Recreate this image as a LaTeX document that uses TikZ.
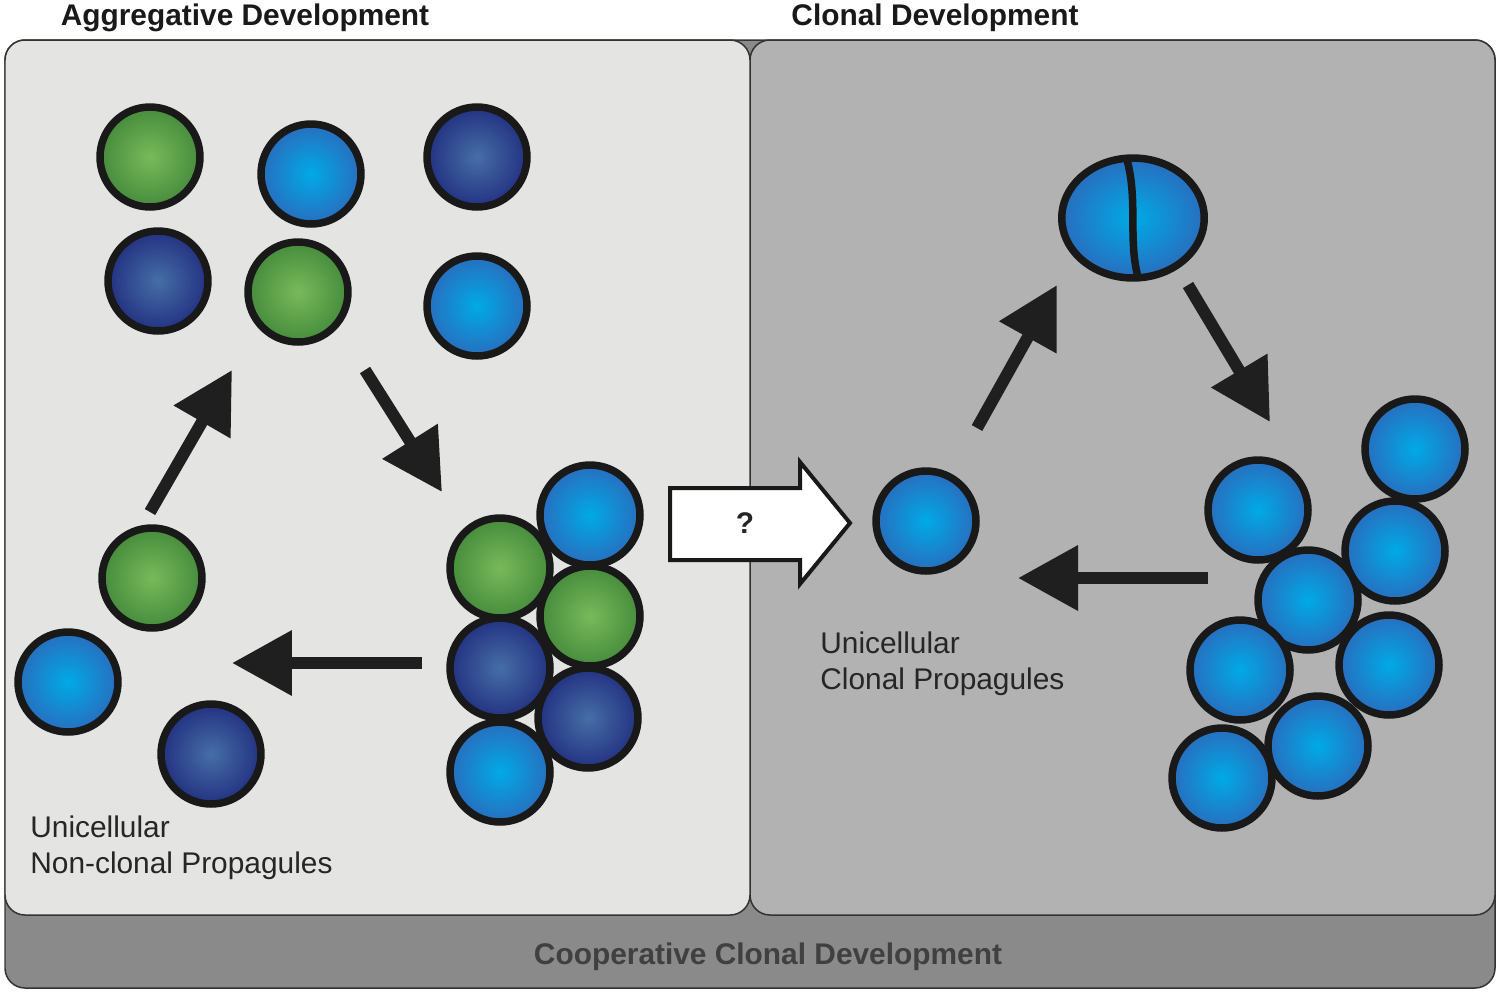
\documentclass[tikz,border=0pt]{standalone}
\usepackage{fontspec}
\setmainfont{Liberation Sans}
\usetikzlibrary{arrows.meta,shapes.geometric}
\definecolor{lpanel}{HTML}{E4E4E3}
\definecolor{rpanel}{HTML}{B2B2B2}
\definecolor{band}{HTML}{8A8A8A}
\begin{document}
\begin{tikzpicture}[x=0.02cm,y=-0.02cm,
 cell/.style={circle,draw=black!90,line width=0.15cm,minimum size=2.0cm,inner sep=0pt},
 G/.style={cell,inner color={rgb,255:red,120;green,185;blue,90},outer color={rgb,255:red,70;green,140;blue,60}},
 L/.style={cell,inner color={rgb,255:red,0;green,170;blue,230},outer color={rgb,255:red,40;green,110;blue,190}},
 D/.style={cell,inner color={rgb,255:red,70;green,110;blue,165},outer color={rgb,255:red,35;green,50;blue,130}},
 arr/.style={line width=0.24cm,draw=black!88,-{Triangle[length=1.2cm,width=1.25cm]}},
 lbl/.style={font=\fontsize{17}{21}\selectfont,align=left,anchor=north west,inner sep=0pt,text=black!85},
 ttl/.style={font=\bfseries\fontsize{17}{21}\selectfont,inner sep=0pt,text=black!90}]
\useasboundingbox (0,0) rectangle (1500,991);
\filldraw[fill=band,draw=black!80,line width=0.03cm,rounded corners=0.4cm] (5,40) rectangle (1495,988);
\filldraw[fill=rpanel,draw=black!80,line width=0.03cm,rounded corners=0.4cm] (750,40) rectangle (1495,915);
\filldraw[fill=lpanel,draw=black!80,line width=0.03cm,rounded corners=0.4cm] (5,40) rectangle (750,915);
\node[ttl] (t1) at (245,18) {Aggregative Development};
\node[ttl] (t2) at (935,18) {Clonal Development};
\node[ttl,text=black!75] (t3) at (768,957) {Cooperative Clonal Development};
% left cells
\node[G] (a1) at (150,157) {};
\node[L] (a2) at (311,174) {};
\node[D] (a3) at (477,157) {};
\node[D] (a4) at (158,281) {};
\node[G] (a5) at (298,292) {};
\node[L] (a6) at (477,306) {};
\node[G] (b1) at (152,578) {};
\node[L] (b2) at (68,682) {};
\node[D] (b3) at (211,754) {};
\node[L] (c1) at (590,515) {};
\node[G] (c2) at (500,568) {};
\node[G] (c3) at (590,616) {};
\node[D] (c4) at (500,668) {};
\node[D] (c5) at (588,718) {};
\node[L] (c6) at (500,772) {};
% right cells
\node[L] (r0) at (926,521) {};
\node[L] (d1) at (1415,449) {};
\node[L] (d2) at (1258,510) {};
\node[L] (d3) at (1395,551) {};
\node[L] (d4) at (1308,600) {};
\node[L] (d5) at (1240,670) {};
\node[L] (d6) at (1389,665) {};
\node[L] (d7) at (1318,746) {};
\node[L] (d8) at (1222,778) {};
% dividing cell
\node[ellipse,minimum width=2.85cm,minimum height=2.4cm,inner sep=0pt,
 inner color={rgb,255:red,0;green,170;blue,230},outer color={rgb,255:red,40;green,110;blue,190},
 draw=black!90,line width=0.15cm] (dv) at (1133,218) {};
\draw[line width=0.15cm,draw=black!90] (1127,160) .. controls (1138,200) and (1128,240) .. (1138,277);
% arrows
\coordinate (p1) at (150,512); \coordinate (p2) at (232,370);
\coordinate (p3) at (365,370); \coordinate (p4) at (442,492);
\coordinate (p5) at (422,663); \coordinate (p6) at (232,663);
\coordinate (q1) at (977,428); \coordinate (q2) at (1057,285);
\coordinate (q3) at (1188,285); \coordinate (q4) at (1270,422);
\coordinate (q5) at (1208,578); \coordinate (q6) at (1018,578);
\draw[arr] (p1) -- (p2);
\draw[arr] (p3) -- (p4);
\draw[arr] (p5) -- (p6);
\draw[arr] (q1) -- (q2);
\draw[arr] (q3) -- (q4);
\draw[arr] (q5) -- (q6);
% hollow arrow
\draw[line width=0.08cm,fill=white,draw=black!90] (670,488) -- (800,488) -- (800,462) -- (850,523) -- (800,584) -- (800,560) -- (670,560) -- cycle;
\node[font=\bfseries\fontsize{17}{21}\selectfont,text=black!85] (q) at (745,523) {?};
% labels
\node[lbl] (l1) at (30,815) {Unicellular\\Non-clonal Propagules};
\node[lbl] (l2) at (820,631) {Unicellular\\Clonal Propagules};
\end{tikzpicture}
\end{document}
